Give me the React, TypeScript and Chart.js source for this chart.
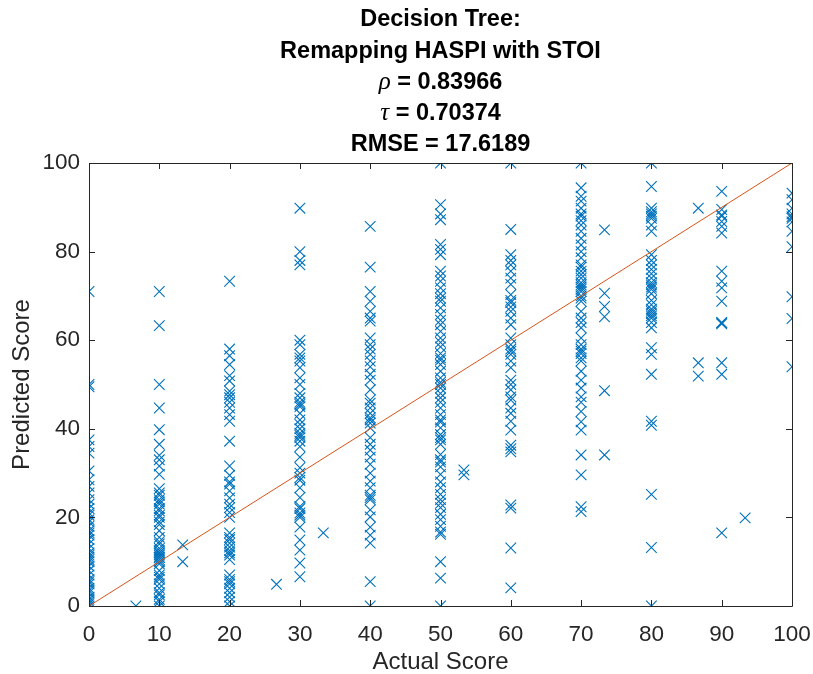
import React, { useEffect, useRef } from "react";
import { Chart, registerables } from "chart.js";

Chart.register(...registerables);

// ---------------- data ----------------
const titleLines = [
  "Decision Tree:",
  "Remapping HASPI with STOI",
  "ρ = 0.83966",
  "τ = 0.70374",
  "RMSE = 17.6189",
];
const xAxisTitle = "Actual Score";
const yAxisTitle = "Predicted Score";
const xTickStep = 10;
const yTickStep = 20;

const predAt0 = [71, 50, 49.5, 37.5, 36, 34.5, 30.5, 28.5, 27, 25.5, 24, 23, 22, 21, 20.5, 19.5, 19, 18, 17, 16.5, 16, 15, 14, 13, 12, 11.5, 11, 10.5, 10, 9, 8, 7, 6, 5.5, 5, 4, 3.5, 3, 2, 1.5, 1, 0.5, 0];
const predAt6_67 = [0];
const predAt10 = [71, 63.3, 50, 44.7, 39.8, 36.5, 34, 33, 31.6, 29.7, 26.5, 25.5, 25, 24, 23.5, 23, 22, 21.5, 20.5, 20, 19, 18.4, 17, 15.5, 14.5, 14, 13, 12.5, 12, 12, 11.5, 11, 11, 10.5, 10, 9.5, 8, 7, 6.5, 6, 5, 4, 3, 2.5, 1.5, 1, 0];
const predAt13_33 = [13.8, 10];
const predAt20 = [73.3, 58, 56.5, 54.5, 52, 50.8, 48.5, 47.7, 47, 46, 44.7, 43.2, 41.7, 37.2, 31.6, 29.5, 28, 27.5, 26, 24.4, 23, 22.2, 21.1, 20, 16.5, 15.5, 15, 14.2, 13.3, 12.5, 12, 11.5, 10.5, 7, 6, 5.5, 5, 4, 3, 2, 1, 0];
const predAt26_67 = [4.9];
const predAt30 = [89.8, 80, 78, 77, 60, 59, 56.8, 56, 55.3, 53.8, 51.5, 50, 48, 47, 46, 45.5, 45, 43.5, 42, 41, 40, 39, 38.5, 38, 37.2, 36, 33.6, 31.2, 30, 29, 28.4, 26.7, 24.5, 22.5, 22, 21, 20.5, 20, 17.8, 14.9, 12.6, 9.7, 6.6];
const predAt33_33 = [16.5];
const predAt40 = [85.7, 76.5, 71, 68.8, 66.5, 65, 64.3, 60.5, 59, 58, 56.8, 55.3, 54, 52.3, 51, 48.8, 46.5, 45.8, 44.7, 43.5, 42.5, 42, 41.3, 40.2, 38, 36.5, 35.2, 33.6, 32, 30, 28.2, 26.7, 25, 24.5, 24, 21.7, 20.1, 17.8, 16, 14.2, 5.5, 0];
const predAt50 = [100, 90.6, 88.5, 87.2, 81.6, 80.5, 79.3, 75.6, 74.5, 73.3, 71.8, 70.5, 69.5, 68.8, 67.3, 65.8, 64.5, 63.5, 62, 60.5, 59.5, 58.5, 57, 56, 55.5, 54.5, 53, 51.5, 50.5, 50, 49.2, 48, 47, 46, 44.7, 43.2, 42, 41.5, 40.2, 38.7, 38, 37.5, 36.5, 34.2, 33, 32.5, 31.4, 29.7, 28, 26.7, 25.2, 24, 23.2, 22.2, 20.7, 19.5, 18, 16.7, 16.2, 10, 6.3, 0];
const predAt53_33 = [30.7, 29.6];
const predAt60 = [100, 85, 79.3, 78, 77, 75.6, 74, 72.6, 70.3, 69, 68.5, 67.5, 66.5, 65, 63.5, 60.5, 59, 58, 57.5, 56.8, 55.3, 53.8, 51, 50, 48.8, 47.2, 46.5, 44.7, 43.5, 41.7, 39.7, 36.3, 35.5, 34.8, 22.8, 22.1, 13.1, 4.1];
const predAt70 = [100, 94.4, 92.5, 91.4, 89.8, 88.5, 88, 87, 86, 84.6, 83, 81.5, 80, 78.6, 77, 76.5, 75.6, 74.8, 74, 73, 72.5, 72, 71.5, 71, 70, 69.5, 68.8, 66.5, 65, 64, 62.8, 60.5, 59, 58, 57.5, 57, 56, 55.3, 53, 51, 49.2, 47.2, 46, 43.9, 41.6, 39.7, 34.1, 29.6, 22.4, 21.3];
const predAt73_33 = [84.9, 70.6, 67.6, 65.3, 48.6, 34.1];
const predAt80 = [100, 94.7, 89.8, 89, 88.5, 88, 87.5, 86, 84.6, 79.3, 78, 77, 76, 75, 74, 73, 72.5, 72, 71.5, 70.5, 69, 68, 67, 66.5, 66, 65.5, 65, 64, 62.8, 58.3, 56.8, 52.3, 41.7, 40.8, 25.2, 13.2, 0];
const predAt86_67 = [89.8, 54.9, 51.9];
const predAt90 = [93.6, 89.5, 88.3, 88, 86.8, 85.7, 84.2, 75.6, 73.3, 71.8, 68.8, 64, 63.9, 63.7, 54.9, 52.3, 16.5];
const predAt93_33 = [19.9];
const predAt100 = [93.2, 91.7, 89.8, 88.5, 87.9, 87.5, 86.7, 84.6, 81.1, 69.8, 64.9, 54];

const actualScores = [0, 6.67, 10, 13.33, 20, 26.67, 30, 33.33, 40, 50, 53.33, 60, 70, 73.33, 80, 86.67, 90, 93.33, 100];
const predictedByActual = [
  predAt0, predAt6_67, predAt10, predAt13_33, predAt20, predAt26_67, predAt30, predAt33_33,
  predAt40, predAt50, predAt53_33, predAt60, predAt70, predAt73_33, predAt80, predAt86_67,
  predAt90, predAt93_33, predAt100,
];
const identityX = [0, 100];
const identityY = [0, 100];

// ---------------- styles ----------------
const MARKER = "#0072BD";
const LINE = "#D95319";
const AXIS = "#262626";
const SANS = '"Liberation Sans", Arial, sans-serif';

const titlePlugin = {
  id: "matlabTitle",
  afterDraw(chart: any) {
    const { ctx, chartArea } = chart;
    const cx = (chartArea.left + chartArea.right) / 2;
    ctx.save();
    ctx.fillStyle = "#000";
    ctx.textBaseline = "middle";
    ctx.textAlign = "left";
    const boldFont = `bold 23.5px ${SANS}`;
    const greekFont = `italic 25px "Liberation Serif", "DejaVu Serif", serif`;
    titleLines.forEach((line, i) => {
      const y = 20 + i * 31.2;
      const first = line.charAt(0);
      if (first === "ρ" || first === "τ") {
        const rest = line.slice(1);
        ctx.font = greekFont;
        const w1 = ctx.measureText(first).width;
        ctx.font = boldFont;
        const w2 = ctx.measureText(rest).width;
        const x0 = cx - (w1 + w2) / 2;
        ctx.font = greekFont;
        ctx.fillText(first, x0, y);
        ctx.font = boldFont;
        ctx.fillText(rest, x0 + w1, y);
      } else {
        ctx.font = boldFont;
        const w = ctx.measureText(line).width;
        ctx.fillText(line, cx - w / 2, y);
      }
    });
    ctx.restore();
  },
};

const boxPlugin = {
  id: "matlabBox",
  afterDraw(chart: any) {
    const { ctx, chartArea } = chart;
    const { left, right, top, bottom } = chartArea;
    const xs = chart.scales.x;
    const ys = chart.scales.y;
    const tl = 6;
    ctx.save();
    ctx.strokeStyle = AXIS;
    ctx.lineWidth = 1;
    ctx.beginPath();
    ctx.rect(Math.round(left) + 0.5, Math.round(top) + 0.5, Math.round(right - left), Math.round(bottom - top));
    xs.ticks.forEach((t: any) => {
      const px = Math.round(xs.getPixelForValue(t.value)) + 0.5;
      ctx.moveTo(px, bottom);
      ctx.lineTo(px, bottom - tl);
      ctx.moveTo(px, top);
      ctx.lineTo(px, top + tl);
    });
    ys.ticks.forEach((t: any) => {
      const py = Math.round(ys.getPixelForValue(t.value)) + 0.5;
      ctx.moveTo(left, py);
      ctx.lineTo(left + tl, py);
      ctx.moveTo(right, py);
      ctx.lineTo(right - tl, py);
    });
    ctx.stroke();
    ctx.restore();
  },
};

export default function App() {
  const canvasRef = useRef<HTMLCanvasElement | null>(null);

  useEffect(() => {
    const canvas = canvasRef.current;
    if (!canvas) return;

    const points: { x: number; y: number }[] = [];
    actualScores.forEach((a, i) => {
      predictedByActual[i].forEach((p) => points.push({ x: a, y: p }));
    });
    const identity = identityX.map((x, i) => ({ x, y: identityY[i] }));

    const chart = new Chart(canvas, {
      type: "scatter",
      data: {
        datasets: [
          {
            label: "identity",
            data: identity,
            showLine: true,
            borderColor: LINE,
            borderWidth: 1,
            pointRadius: 0,
            order: 0,
          },
          {
            label: "scores",
            data: points,
            pointStyle: "crossRot",
            pointRadius: 7.5,
            borderColor: MARKER,
            backgroundColor: MARKER,
            borderWidth: 1.1,
            order: 1,
          },
        ],
      },
      options: {
        animation: false,
        responsive: false,
        devicePixelRatio: 1,
        layout: { padding: { left: 0, right: 21, top: 163, bottom: 0 } },
        plugins: {
          legend: { display: false },
          title: { display: false },
          tooltip: { enabled: false },
        },
        scales: {
          x: {
            type: "linear",
            min: 0,
            max: 100,
            ticks: {
              stepSize: xTickStep,
              color: AXIS,
              font: { family: SANS, size: 22.5 },
              padding: 15,
              maxRotation: 0,
            },
            grid: { display: false, drawTicks: false },
            border: { display: false },
            title: {
              display: true,
              text: xAxisTitle,
              color: AXIS,
              font: { family: SANS, size: 24, lineHeight: 1 },
              padding: { top: 0, bottom: 0 },
            },
            afterFit: (scale: any) => {
              scale.height = 68;
              scale.paddingLeft = 0;
              scale.paddingRight = 0;
            },
          },
          y: {
            type: "linear",
            min: 0,
            max: 100,
            ticks: {
              stepSize: yTickStep,
              color: AXIS,
              font: { family: SANS, size: 22.5 },
              padding: 9,
            },
            grid: { display: false, drawTicks: false },
            border: { display: false },
            title: {
              display: true,
              text: yAxisTitle,
              color: AXIS,
              font: { family: SANS, size: 24 },
              padding: { top: 8, bottom: 0 },
            },
            afterFit: (scale: any) => {
              scale.width = 89;
              scale.paddingTop = 0;
              scale.paddingBottom = 0;
            },
          },
        },
      },
      plugins: [titlePlugin, boxPlugin],
    });

    return () => chart.destroy();
  }, []);

  return (
    <div style={{ position: "fixed", left: 0, top: 0, width: 813, height: 674, background: "#fff" }}>
      <canvas ref={canvasRef} width={813} height={674} style={{ display: "block", width: 813, height: 674 }} />
    </div>
  );
}
